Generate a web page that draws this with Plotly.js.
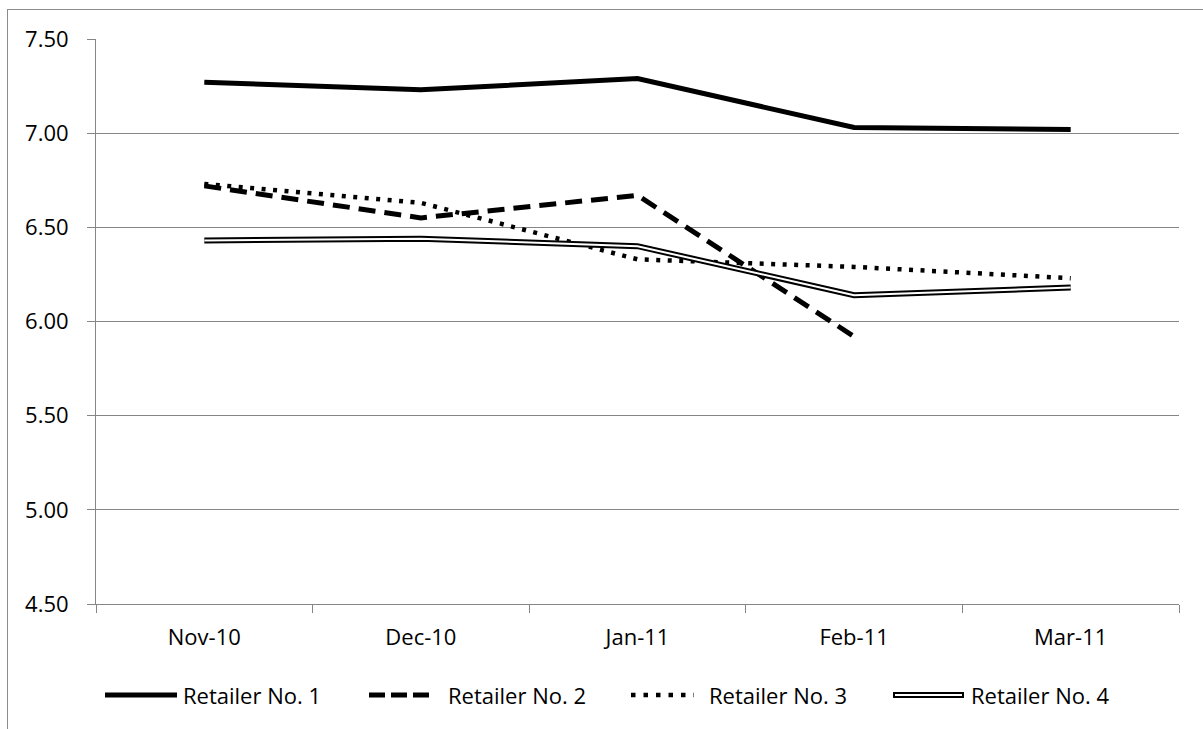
<!DOCTYPE html>
<html>
<head>
<meta charset="utf-8">
<script src="https://cdn.plot.ly/plotly-3.0.1.min.js"></script>
<style>
html,body{margin:0;padding:0;background:#fff;}
#wrap{position:relative;width:1203px;height:729px;overflow:hidden;}
#chart{position:absolute;left:0;top:0;width:1203px;height:729px;}
#frame{position:absolute;left:7px;top:9px;width:1300px;height:800px;border-left:1px solid #8c8c8c;border-top:1px solid #8c8c8c;pointer-events:none;}
</style>
</head>
<body>
<div id="wrap"><div id="chart"></div><div id="frame"></div></div>
<script>
const categories = ['Nov-10', 'Dec-10', 'Jan-11', 'Feb-11', 'Mar-11'];
const seriesNames = ['Retailer No. 1', 'Retailer No. 2', 'Retailer No. 3', 'Retailer No. 4'];
const retailer1 = [7.27, 7.23, 7.29, 7.03, 7.02];
const retailer2 = [6.72, 6.55, 6.67, 5.92, null];
const retailer3 = [6.73, 6.63, 6.33, 6.29, 6.23];
const retailer4 = [6.43, 6.44, 6.40, 6.14, 6.18];
const yTickValues = [4.5, 5.0, 5.5, 6.0, 6.5, 7.0, 7.5];

const W = 1203, H = 729;
const M = {l: 96, r: 24, t: 39, b: 125};
const pw = W - M.l - M.r, ph = H - M.t - M.b;
const px = x => (x - M.l) / pw;
const py = y => (H - M.b - y) / ph;

const FONT = {family: '"Open Sans", "Liberation Sans", sans-serif', size: 22, color: '#000'};

const traces = [
  {x: categories, y: retailer1, name: seriesNames[0], mode: 'lines', line: {color: '#000', width: 5}},
  {x: categories, y: retailer2, name: seriesNames[1], mode: 'lines', line: {color: '#000', width: 5, dash: '17px,9px'}},
  {x: categories, y: retailer3, name: seriesNames[2], mode: 'lines', line: {color: '#000', width: 4.5, dash: '4px,7.5px'}},
  {x: categories, y: retailer4, name: seriesNames[3], mode: 'lines', line: {color: '#000', width: 6}},
  {x: categories, y: retailer4, name: seriesNames[3], mode: 'lines', line: {color: '#fff', width: 2}, showlegend: false}
];

// custom legend (Excel-style long samples)
const legY = py(695);
const items = [
  {x0: 105, x1: 177, tx: 181},
  {x0: 369, x1: 429, tx: 446},
  {x0: 631, x1: 694, tx: 707},
  {x0: 893, x1: 964, tx: 969}
];
const shapes = [
  {type: 'line', xref: 'paper', yref: 'paper', x0: px(items[0].x0), x1: px(items[0].x1), y0: legY, y1: legY, line: {color: '#000', width: 5}},
  {type: 'line', xref: 'paper', yref: 'paper', x0: px(items[1].x0), x1: px(items[1].x1), y0: legY, y1: legY, line: {color: '#000', width: 5, dash: '16px,6px'}},
  {type: 'line', xref: 'paper', yref: 'paper', x0: px(items[2].x0), x1: px(items[2].x1), y0: legY, y1: legY, line: {color: '#000', width: 4.5, dash: '4.5px,8px'}},
  {type: 'line', xref: 'paper', yref: 'paper', x0: px(items[3].x0), x1: px(items[3].x1), y0: legY, y1: legY, line: {color: '#000', width: 6}},
  {type: 'line', xref: 'paper', yref: 'paper', x0: px(items[3].x0 + 2), x1: px(items[3].x1 - 2), y0: legY, y1: legY, line: {color: '#fff', width: 2}}
];
const annotations = items.map((it, i) => ({
  xref: 'paper', yref: 'paper', x: px(it.tx), y: legY, xanchor: 'left', yanchor: 'middle',
  text: seriesNames[i], showarrow: false, font: FONT
}));

const layout = {
  width: W, height: H,
  margin: M,
  paper_bgcolor: '#fff', plot_bgcolor: '#fff',
  showlegend: false,
  font: FONT,
  xaxis: {
    type: 'category', tickson: 'boundaries', ticks: 'outside', ticklen: 8, tickcolor: '#868686',
    showline: true, linecolor: '#868686', linewidth: 1, showgrid: false, zeroline: false,
    tickfont: FONT, ticklabelstandoff: 14, range: [-0.5, 4.5]
  },
  yaxis: {
    range: [4.5, 7.5], tickvals: yTickValues, tickformat: '.2f', ticks: 'outside', ticklen: 8, tickcolor: '#868686',
    showline: true, linecolor: '#868686', linewidth: 1, showgrid: true, gridcolor: '#868686', gridwidth: 1,
    zeroline: false, tickfont: FONT, ticklabelstandoff: 14
  },
  shapes: shapes,
  annotations: annotations
};

Plotly.newPlot('chart', traces, layout, {displayModeBar: false, staticPlot: true});
</script>
</body>
</html>
